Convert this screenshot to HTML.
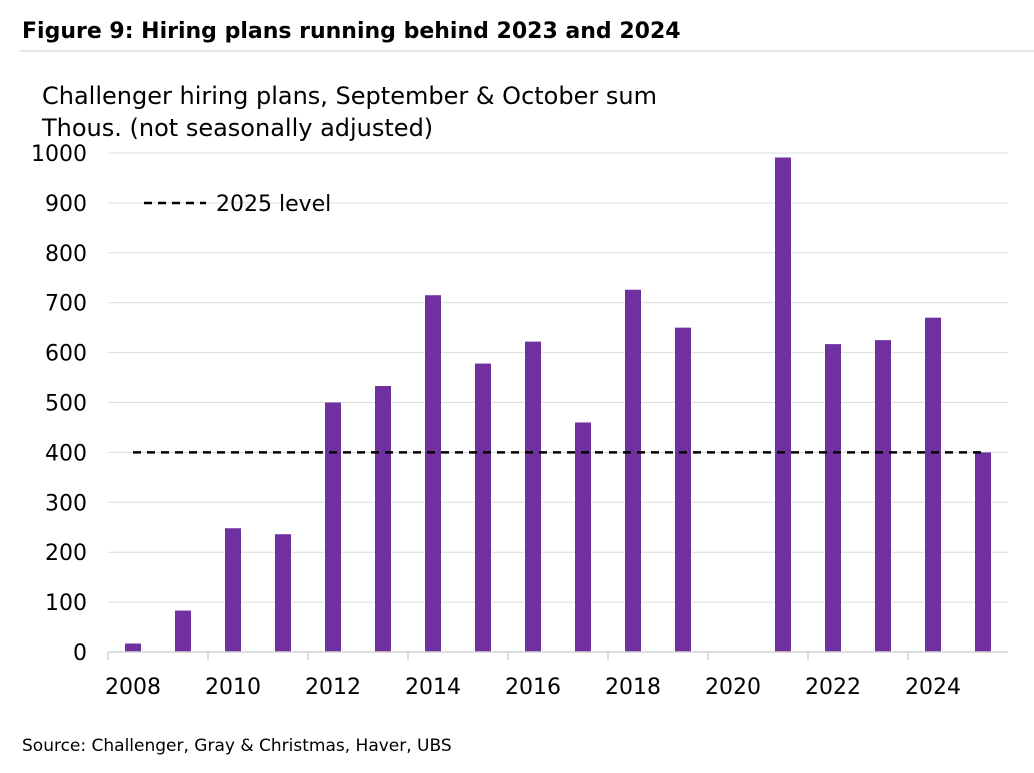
<!DOCTYPE html>
<html><head><meta charset="utf-8"><style>
body{margin:0;background:#fff;font-family:"Liberation Sans",sans-serif;}
svg text{font-family:"DejaVu Sans","Liberation Sans",sans-serif;}
</style></head><body>
<svg id="chart" width="1034" height="768">
<text x="22" y="38" font-size="22" font-weight="bold" fill="#000">Figure 9: Hiring plans running behind 2023 and 2024</text>
<line x1="20" y1="51" x2="1034" y2="51" stroke="#ccc" stroke-width="1"/>
<text x="42" y="104" font-size="24" fill="#000">Challenger hiring plans, September &amp; October sum</text>
<text x="42" y="136" font-size="24" fill="#000">Thous. (not seasonally adjusted)</text>
<g id="grid"></g><g id="bars"></g><g id="axes"></g>
<line x1="144" y1="203" x2="206" y2="203" stroke="#000" stroke-width="2.5" stroke-dasharray="8,6"/>
<text x="216" y="211" font-size="22" fill="#000">2025 level</text>
<text x="22" y="751" font-size="17" fill="#000">Source: Challenger, Gray &amp; Christmas, Haver, UBS</text>
</svg>
<script>
const years=[2008,2009,2010,2011,2012,2013,2014,2015,2016,2017,2018,2019,2020,2021,2022,2023,2024,2025];
const values=[17,83,248,236,500,533,715,578,622,460,726,650,0,991,617,625,670,400];
const yTicks=[0,100,200,300,400,500,600,700,800,900,1000];
const level2025=400;
const NS="http://www.w3.org/2000/svg";
const L=108,W=50,Y0=652,S=0.499;
const x=i=>L+W*i;
const y=v=>Y0-v*S;
const grid=document.getElementById('grid'),bars=document.getElementById('bars'),axes=document.getElementById('axes');
function mk(tag,at,parent,txt){const e=document.createElementNS(NS,tag);for(const k in at)e.setAttribute(k,at[k]);if(txt!==undefined)e.textContent=txt;parent.appendChild(e);return e;}
yTicks.forEach(t=>{
  if(t>0){const g=mk('line',{x1:L,x2:L+W*years.length,y1:y(t),y2:y(t),stroke:'#dcdcdc','stroke-width':1},grid);
  
  }
  const tx=mk('text',{x:87,y:y(t)+8,'font-size':22,'text-anchor':'end',fill:'#000'},axes,String(t));
  
  
});
values.forEach((v,i)=>{
  if(v<=0)return;
  const r=mk('rect',{x:x(i)+W/2-8,y:y(v),width:16,height:v*S,fill:'#7030a0'},bars);
  
  
});
const ax=mk('line',{x1:L,x2:L+W*years.length,y1:Y0,y2:Y0,stroke:'#d0d0d0','stroke-width':1.5},axes);


years.forEach((yr,i)=>{
  if(i%2)return;
  const tk=mk('line',{x1:x(i),x2:x(i),y1:Y0,y2:Y0+8,stroke:'#d0d0d0','stroke-width':1.5},axes);
  
  
  const tl=mk('text',{x:x(i)+W/2,y:Y0+42,'font-size':22,'text-anchor':'middle',fill:'#000'},axes,String(yr));
  
  
});
const dl=mk('line',{x1:x(0)+W/2,x2:x(years.length-1)+W/2,y1:y(level2025),y2:y(level2025),stroke:'#000','stroke-width':2.5,'stroke-dasharray':'8,6'},axes);


</script>
</body></html>
